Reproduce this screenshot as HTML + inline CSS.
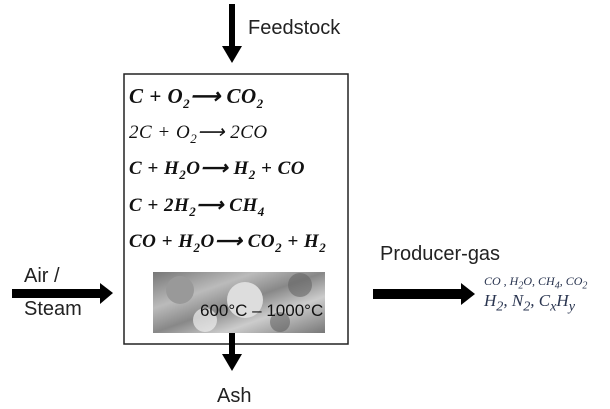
<!DOCTYPE html>
<html><head><style>
body{margin:0;width:610px;height:409px;background:#fff;position:relative;overflow:hidden;font-family:"Liberation Sans",sans-serif}
.t{position:absolute;font-size:20px;color:#222;white-space:nowrap}
.eq{position:absolute;left:129px;font-family:"Liberation Serif",serif;font-style:italic;font-weight:bold;font-size:19px;color:#111;white-space:nowrap;letter-spacing:0.5px;line-height:24px}
.eq sub{font-size:13px}
.g{position:absolute;font-family:"Liberation Serif",serif;font-style:italic;color:#2a3550;white-space:nowrap}
</style></head><body>
<svg width="610" height="409" style="position:absolute;left:0;top:0">
<defs><linearGradient id="st" x1="0" y1="0" x2="1" y2="1">
<stop offset="0" stop-color="#777"/><stop offset="0.3" stop-color="#bbb"/><stop offset="0.5" stop-color="#888"/><stop offset="0.7" stop-color="#ccc"/><stop offset="1" stop-color="#777"/></linearGradient></defs>
<rect x="124" y="74" width="224" height="270" fill="none" stroke="#222" stroke-width="1.5"/>
<rect x="153" y="272" width="172" height="61" fill="url(#st)"/>
<circle cx="180" cy="290" r="14" fill="#999"/><circle cx="245" cy="300" r="18" fill="#ddd"/><circle cx="300" cy="285" r="12" fill="#666" opacity=".6"/><circle cx="205" cy="320" r="12" fill="#eee" opacity=".7"/><circle cx="280" cy="322" r="10" fill="#555" opacity=".5"/>
<rect x="229" y="4" width="6" height="44" fill="#000"/><polygon points="222,46 242,46 232,63" fill="#000"/>
<rect x="229" y="333" width="6" height="22" fill="#000"/><polygon points="222,354 242,354 232,371" fill="#000"/>
<rect x="12" y="289" width="90" height="9" fill="#000"/><polygon points="100,283 100,304 113,293" fill="#000"/>
<rect x="373" y="289" width="90" height="10" fill="#000"/><polygon points="461,283 461,305 475,294" fill="#000"/>
</svg>
<div class="t" style="left:248px;top:17px">Feedstock</div>
<div class="eq" style="top:84px;font-size:21px">C + O<sub>2</sub>⟶ CO<sub>2</sub></div>
<div class="eq" style="top:121px;font-weight:normal">2C + O<sub>2</sub>⟶ 2CO</div>
<div class="eq" style="top:157px">C + H<sub>2</sub>O⟶ H<sub>2</sub> + CO</div>
<div class="eq" style="top:194px">C + 2H<sub>2</sub>⟶ CH<sub>4</sub></div>
<div class="eq" style="top:230px">CO + H<sub>2</sub>O⟶ CO<sub>2</sub> + H<sub>2</sub></div>
<div class="t" style="left:200px;top:301px;font-size:17px;color:#111">600°C – 1000°C</div>
<div class="t" style="left:24px;top:265px">Air /</div>
<div class="t" style="left:24px;top:298px">Steam</div>
<div class="t" style="left:380px;top:243px">Producer-gas</div>
<div class="g" style="left:484px;top:274px;font-size:12px">CO , H<sub>2</sub>O, CH<sub>4</sub>, CO<sub>2</sub></div>
<div class="g" style="left:484px;top:291px;font-size:17px">H<sub>2</sub>, N<sub>2</sub>, C<sub>x</sub>H<sub>y</sub></div>
<div class="t" style="left:217px;top:385px">Ash</div>
</body></html>
